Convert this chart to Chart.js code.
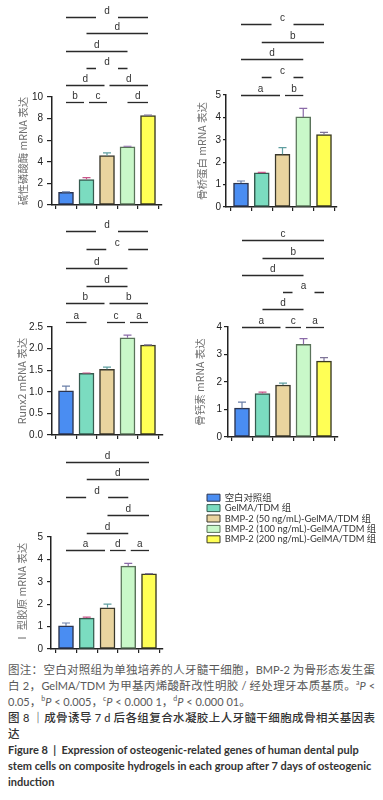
<!DOCTYPE html>
<html><head><meta charset="utf-8">
<script src="https://cdn.jsdelivr.net/npm/chart.js@4/dist/chart.umd.min.js"></script>
<style>
html,body{margin:0;padding:0;background:#fff;}
body{width:383px;height:800px;position:relative;overflow:hidden;}
.cap{position:absolute;left:8px;width:367px;line-height:16px;font-family:"Noto Sans CJK SC",sans-serif;font-size:11.5px;color:#595959;white-space:nowrap;}
.just{text-align:justify;text-align-last:justify;white-space:normal;}
.lt{font-family:Lato,"Noto Sans CJK SC",sans-serif;font-size:11px;}
.cap sup{font-size:7px;vertical-align:5px;line-height:0;font-family:Lato,sans-serif;}
.cap i{font-family:Lato,sans-serif;font-size:11px;}
.head{color:#333;font-weight:500;}
.en{font-family:Lato,sans-serif;font-weight:bold;font-size:11px;color:#333;}
</style></head>
<body>
<script>
// ---------- data ----------
const groupNames = ['空白对照组','GelMA/TDM 组','BMP-2 (50 ng/mL)-GelMA/TDM 组','BMP-2 (100 ng/mL)-GelMA/TDM 组','BMP-2 (200 ng/mL)-GelMA/TDM 组'];
const groupIndex = [0,1,2,3,4];

const alpTitle = '碱性磷酸酶 mRNA 表达';
const alpValues = [1.18, 2.36, 4.57, 5.39, 8.27];
const alpErrors = [0.03, 0.18, 0.25, 0.05, 0.06];
const alpTicks = [0,2,4,6,8,10];
const alpSig = [[0,1,9.55,'b'],[1,2,9.55,'c'],[3,4,9.55,'d'],[0,2,11.1,'d'],[2,4,11.1,'d'],[1,3,12.7,'d',1],[0,3,14.3,'d'],[1,4,15.9,'d'],[0,4,17.45,'d',1]];

const opnTitle = '骨桥蛋白 mRNA 表达';
const opnValues = [1.07, 1.53, 2.35, 4.02, 3.23];
const opnErrors = [0.09, 0.02, 0.30, 0.38, 0.10];
const opnTicks = [0,1,2,3,4,5];
const opnSig = [[0,2,5.0,'a'],[2,3,5.0,'b'],[1,3,5.8,'c',1],[0,3,6.6,'d'],[1,4,7.37,'b'],[0,4,8.17,'c',1]];

const runxTitle = 'Runx2 mRNA 表达';
const runxValues = [1.02, 1.43, 1.52, 2.25, 2.08];
const runxErrors = [0.11, 0.005, 0.05, 0.06, 0.005];
const runxTicks = [0,0.5,1,1.5,2,2.5];
const runxSig = [[0,1,2.61,'a'],[2,3,2.61,'c'],[3,4,2.61,'a'],[0,2,3.05,'b'],[2,4,3.05,'b'],[1,3,3.45,'d'],[0,3,3.86,'d'],[1,4,4.3,'c',1],[0,4,4.73,'d',1]];

const ocnTitle = '骨钙素 mRNA 表达';
const ocnValues = [1.05, 1.58, 1.89, 3.37, 2.76];
const ocnErrors = [0.22, 0.05, 0.07, 0.21, 0.13];
const ocnTicks = [0,1,2,3,4];
const ocnSig = [[0,2,4.0,'a'],[2,3,4.0,'c'],[3,4,4.0,'a'],[1,3,4.65,'d'],[2,4,5.27,'a',1],[0,3,5.89,'d'],[1,4,6.5,'b'],[0,4,7.16,'c']];

const colTitle = 'Ⅰ 型胶原 mRNA 表达';
const colValues = [1.03, 1.38, 1.84, 3.70, 3.36];
const colErrors = [0.13, 0.04, 0.16, 0.12, 0.005];
const colTicks = [0,1,2,3,4,5];
const colSig = [[0,2,4.42,'a'],[2,3,4.42,'d'],[3,4,4.42,'a'],[1,3,5.18,'d'],[2,4,5.98,'d'],[0,3,6.79,'d',1],[1,4,7.59,'d'],[0,4,8.35,'d']];

// ---------- styles ----------
const barColors = ['#4a8df2','#7bdcc0','#e9d49f','#c9f8c9','#ffff55'];
const barBorders = ['#2c3550','#365c50','#3a382c','#5a735a','#3a3a22'];
const errColors = ['#6a7fa8','#c8568a','#5f9ea0','#8a6aa8','#7f7598'];
const TICK_FONT = {family:'"Liberation Sans", Arial, sans-serif', size:10};
const TITLE_FONT = {family:'"Noto Sans CJK SC", sans-serif', size:10.5};

function sigPlugin(errors, sig){
  return {
    id:'sigbars',
    afterDatasetsDraw(chart){
      const ctx = chart.ctx, ys = chart.scales.y;
      const meta = chart.getDatasetMeta(0);
      const data = chart.data.datasets[0].data;
      ctx.save();
      ctx.lineWidth = 1.2;
      meta.data.forEach((el,i)=>{
        const top = ys.getPixelForValue(data[i].y + errors[i]);
        ctx.strokeStyle = errColors[i];
        ctx.beginPath();
        ctx.moveTo(el.x, el.y); ctx.lineTo(el.x, top);
        ctx.moveTo(el.x-4, top); ctx.lineTo(el.x+4, top);
        ctx.stroke();
      });
      ctx.restore();
    },
    afterDraw(chart){
      const ctx = chart.ctx, xs = chart.scales.x, ys = chart.scales.y;
      ctx.save();
      ctx.strokeStyle = '#2a2a2a';
      ctx.fillStyle = '#333';
      ctx.lineWidth = 1.3;
      ctx.font = '10px "Liberation Sans", Arial, sans-serif';
      ctx.textAlign = 'center';
      ctx.textBaseline = 'middle';
      sig.forEach(b=>{
        const [i,j,yv,lab,gap] = b;
        let x1 = xs.getPixelForValue(i), x2 = xs.getPixelForValue(j);
        const sameRow = sig.filter(o=>o!==b && o[2]===yv);
        if (sameRow.some(o=>o[1]===i)) x1 += 2.5;
        if (sameRow.some(o=>o[0]===j)) x2 -= 2.5;
        const y = Math.round(ys.getPixelForValue(yv)) + 0.5;
        const mid = (x1+x2)/2;
        ctx.beginPath();
        if (gap){
          ctx.moveTo(x1,y); ctx.lineTo(mid-11,y);
          ctx.moveTo(mid+11,y); ctx.lineTo(x2,y);
        } else {
          ctx.moveTo(x1,y); ctx.lineTo(x2,y);
        }
        ctx.stroke();
        ctx.fillText(lab, mid, y-6);
      });
      ctx.restore();
    }
  };
}

function makePanel(geo, title, values, errors, ticks, sig, fmt){
  const [cl, ct, cw, ch] = geo.canvas;
  const cv = document.createElement('canvas');
  cv.width = cw; cv.height = ch;
  cv.style.cssText = `position:absolute;left:${cl}px;top:${ct}px;width:${cw}px;height:${ch}px;`;
  document.body.appendChild(cv);
  const xmin = (geo.axisX - geo.c0)/geo.d, xmax = (geo.right - geo.c0)/geo.d;
  new Chart(cv, {
    type:'bar',
    data:{datasets:[{
      data: values.map((v,i)=>({x:groupIndex[i], y:v})),
      backgroundColor: barColors, borderColor: barBorders,
      borderWidth:1.5, barThickness:15, borderSkipped:false
    }]},
    options:{
      responsive:false, animation:false, devicePixelRatio:1, events:[],
      layout:{padding:{left:0, top:geo.top-ct, right:cl+cw-geo.right, bottom:0}},
      plugins:{legend:{display:false}, tooltip:{enabled:false}},
      scales:{
        x:{type:'linear', min:xmin, max:xmax, offset:false,
          grid:{drawOnChartArea:false, tickLength:4, color:'#222', lineWidth:1.2},
          border:{color:'#222', width:1.5},
          ticks:{display:false, stepSize:1},
          afterBuildTicks: s => { s.ticks = groupIndex.map(v=>({value:v})); },
          afterFit: s => { s.height = ct+ch-geo.bottom; }
        },
        y:{type:'linear', min:0, max:ticks[ticks.length-1],
          grid:{drawOnChartArea:false, tickLength:geo.tickLen, color:'#222', lineWidth:1.2},
          border:{color:'#222', width:1.5},
          ticks:{padding:geo.tickPad, color:'#222', font:TICK_FONT, callback:v=>fmt(v)},
          afterBuildTicks: s => { s.ticks = ticks.map(v=>({value:v})); },
          afterFit: s => { s.width = geo.axisX - cl; },
          title:{display:true, text:title, color:'#6e6e6e', font:TITLE_FONT,
                 padding:{top:geo.titleX - cl - 6.3, bottom:0}}
        }
      }
    },
    plugins:[sigPlugin(errors, sig)]
  });
}

const intFmt = v => String(v);
const decFmt = v => v.toFixed(1);

makePanel({canvas:[0,0,190,215], axisX:52, right:162, top:97, bottom:207, c0:66, d:20.5, tickLen:5, tickPad:4, titleX:23},
  alpTitle, alpValues, alpErrors, alpTicks, alpSig, intFmt);
makePanel({canvas:[190,0,193,215], axisX:226, right:337, top:95, bottom:207, c0:241, d:20.75, tickLen:3, tickPad:2, titleX:202},
  opnTitle, opnValues, opnErrors, opnTicks, opnSig, intFmt);
makePanel({canvas:[0,213,190,232], axisX:52, right:163, top:327, bottom:437, c0:66, d:20.5, tickLen:5, tickPad:4, titleX:22},
  runxTitle, runxValues, runxErrors, runxTicks, runxSig, decFmt);
makePanel({canvas:[190,213,193,232], axisX:228, right:338, top:327, bottom:437, c0:242, d:20.5, tickLen:4, tickPad:2, titleX:200},
  ocnTitle, ocnValues, ocnErrors, ocnTicks, ocnSig, intFmt);
makePanel({canvas:[0,448,190,212], axisX:51, right:163, top:537, bottom:649, c0:66, d:20.75, tickLen:4, tickPad:4, titleX:22},
  colTitle, colValues, colErrors, colTicks, colSig, intFmt);

// ---------- legend ----------
(function(){
  const cv = document.createElement('canvas');
  cv.width = 183; cv.height = 80;
  cv.style.cssText = 'position:absolute;left:200px;top:480px;width:183px;height:80px;';
  document.body.appendChild(cv);
  new Chart(cv, {
    type:'bar',
    data:{labels:[], datasets: groupNames.map((n,i)=>({label:n, data:[], backgroundColor:barColors[i], borderColor:barBorders[i], borderWidth:1}))},
    options:{
      responsive:false, animation:false, devicePixelRatio:1, events:[],
      layout:{padding:{left:6, top:12, right:0, bottom:0}},
      scales:{x:{display:false}, y:{display:false}},
      plugins:{tooltip:{enabled:false},
        legend:{display:true, position:'left', align:'start', maxWidth:200,
          labels:{boxWidth:13, boxHeight:7, padding:1, color:'#333',
            font:{family:'Lato, "Noto Sans CJK SC", sans-serif', size:9.4}}}}
    }
  });
})();
</script>

<div class="cap just" style="top:661px">图注：空白对照组为单独培养的人牙髓干细胞，<span class="lt">BMP-2</span> 为骨形态发生蛋</div>
<div class="cap just" style="top:677px">白 <span class="lt">2</span>，<span class="lt">GelMA/TDM</span> 为甲基丙烯酸酐改性明胶 <span class="lt">/</span> 经处理牙本质基质。<sup>a</sup><i>P</i> <span class="lt">&lt;</span></div>
<div class="cap" style="top:693px"><span class="lt">0.05</span>，<sup>b</sup><i>P</i><span class="lt"> &lt; 0.005</span>，<sup>c</sup><i>P</i><span class="lt"> &lt; 0.000 1</span>，<sup>d</sup><i>P</i><span class="lt"> &lt; 0.000 01</span>。</div>
<div class="cap just head" style="top:709px">图 <span class="lt">8</span> ｜成骨诱导 <span class="lt">7 d</span> 后各组复合水凝胶上人牙髓干细胞成骨相关基因表</div>
<div class="cap head" style="top:725px">达</div>
<div class="cap en" style="top:742px">Figure 8 &nbsp;|&nbsp; Expression of osteogenic-related genes of human dental pulp</div>
<div class="cap en" style="top:758px">stem cells on composite hydrogels in each group after 7 days of osteogenic</div>
<div class="cap en" style="top:774px">induction</div>
</body></html>
